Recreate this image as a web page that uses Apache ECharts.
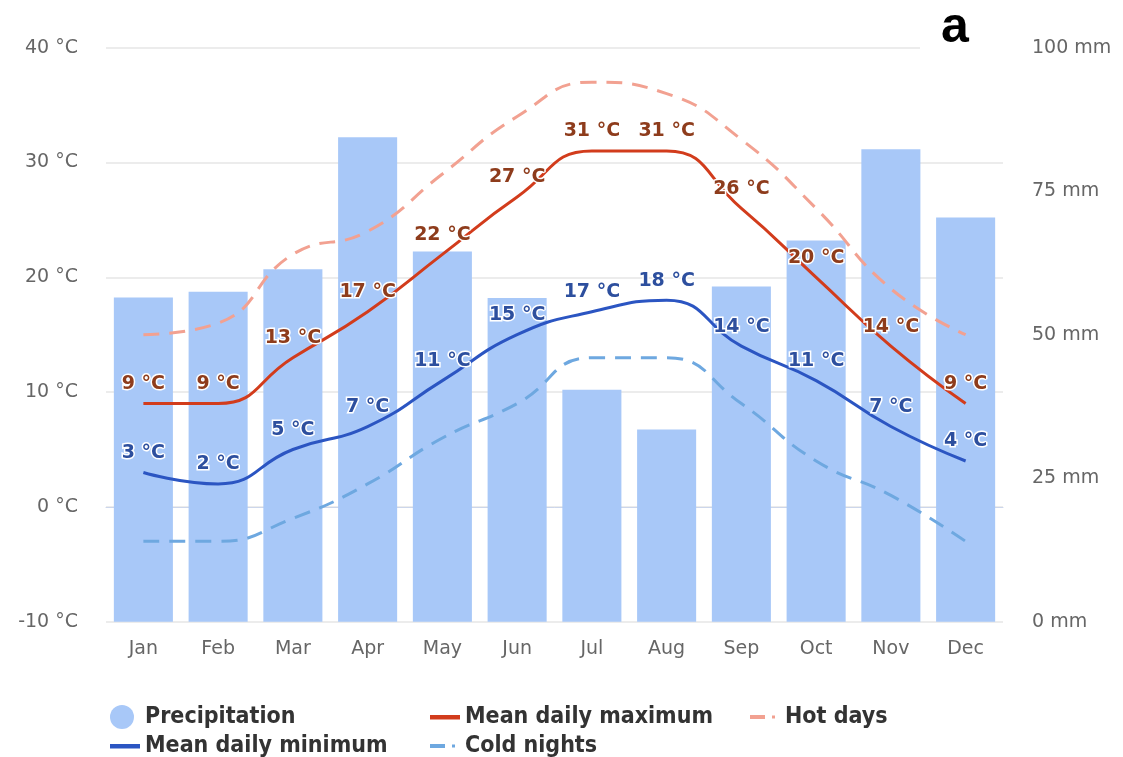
<!DOCTYPE html>
<html>
<head>
<meta charset="utf-8">
<script src="https://cdn.jsdelivr.net/npm/echarts@6/dist/echarts.min.js"></script>
<style>html,body{margin:0;padding:0;background:#fff;}#c{width:1123px;height:757px;}</style>
</head>
<body>
<div id="c"></div>
<script>
const months = ['Jan','Feb','Mar','Apr','May','Jun','Jul','Aug','Sep','Oct','Nov','Dec'];
const precipitation = [56.5, 57.5, 61.4, 84.4, 64.5, 56.4, 40.4, 33.5, 58.4, 66.4, 82.3, 70.4];
const meanMax = [9, 9, 13, 17, 22, 27, 31, 31, 26, 20, 14, 9];
const meanMin = [3, 2, 5, 7, 11, 15, 17, 18, 14, 11, 7, 4];
const hotDays = [15, 16, 22, 24, 29, 34, 37, 36, 32, 26, 19, 15];
const coldNights = [-3, -3, -1, 2, 6, 9, 13, 13, 9, 4, 1, -3];
const tempTicks = {min: -10, max: 40, interval: 10};
const precipTicks = {min: 0, max: 100, interval: 25};

const chart = echarts.init(document.getElementById('c'));
const FONT = 'DejaVu Sans';
const SOLID_ICON = 'path://M0,0 M30,24 M0,10 L30,10 L30,14.5 L0,14.5 Z';
const DASH_ICON = 'path://M0,0 M30,24 M0,10 L15,10 L15,14 L0,14 Z M22,10.5 L25,10.5 L25,13.5 L22,13.5 Z';
function lbl(color) {
  return {show: true, position: 'top', distance: 10, formatter: '{c} °C',
    color: color, fontFamily: FONT, fontWeight: 'bold', fontSize: 19,
    textBorderColor: '#fff', textBorderWidth: 3};
}
function leg(name, icon, left, top, pad) {
  return {left: left, top: top, itemWidth: 30, itemHeight: 24, data: [{name: name, icon: icon}],
    textStyle: {color: '#333', fontFamily: 'DejaVu Sans Condensed', fontWeight: 'bold', fontSize: 23, padding: [0,0,0,pad]}};
}
chart.setOption({
  animation: false,
  backgroundColor: '#fff',
  grid: {left: 106, right: 120, top: 47.7, bottom: 135.3, containLabel: false},
  xAxis: {
    type: 'category', data: months,
    axisLine: {lineStyle: {color: '#ccd6eb', width: 1}},
    axisTick: {show: false},
    axisLabel: {color: '#666', fontSize: 19, fontFamily: FONT, margin: 18}
  },
  yAxis: [{
    type: 'value', min: tempTicks.min, max: tempTicks.max, interval: tempTicks.interval,
    axisLabel: {formatter: '{value} °C', color: '#666', fontSize: 19, fontFamily: FONT, margin: 28},
    splitLine: {lineStyle: {color: '#e6e6e6', width: 1.5}},
    axisLine: {show: false}, axisTick: {show: false}
  }, {
    type: 'value', min: precipTicks.min, max: precipTicks.max, interval: precipTicks.interval,
    axisLabel: {formatter: '{value} mm', color: '#666', fontSize: 19, fontFamily: FONT, margin: 29},
    splitLine: {show: false}, axisLine: {show: false}, axisTick: {show: false}
  }],
  legend: [
    leg('Precipitation', 'circle', 105, 700, 3),
    leg('Mean daily maximum', SOLID_ICON, 425, 700, 0),
    leg('Hot days', DASH_ICON, 745, 700, 0),
    leg('Mean daily minimum', SOLID_ICON, 105, 729, 0),
    leg('Cold nights', DASH_ICON, 425, 729, 0)
  ],
  graphic: [
    {type: 'rect', left: 920, top: 42, shape: {width: 83, height: 12}, style: {fill: '#fff'}, z: 100},
    {type: 'text', left: 941, top: 3, z: 101,
      style: {text: 'a', font: 'bold 50px "Liberation Sans"', fill: '#000'}}
  ],
  series: [
    {name: 'Precipitation', type: 'bar', yAxisIndex: 1, data: precipitation,
      barCategoryGap: '21%', itemStyle: {color: '#a8c8f8'}, z: 1},
    {name: 'Hot days', type: 'line', data: hotDays, smooth: 0.5, symbol: 'none',
      lineStyle: {color: '#f2a191', width: 3, type: [16, 10]}, itemStyle: {color: '#f2a191'}, z: 2},
    {name: 'Cold nights', type: 'line', data: coldNights, smooth: 0.5, symbol: 'none',
      lineStyle: {color: '#6ea8e0', width: 3, type: [16, 10]}, itemStyle: {color: '#6ea8e0'}, z: 2},
    {name: 'Mean daily maximum', type: 'line', data: meanMax, smooth: 0.5,
      showSymbol: true, symbol: 'circle', symbolSize: 0.01,
      lineStyle: {color: '#d23c1c', width: 3}, itemStyle: {color: '#d23c1c'},
      label: lbl('#8e3c1c'), z: 3},
    {name: 'Mean daily minimum', type: 'line', data: meanMin, smooth: 0.5,
      showSymbol: true, symbol: 'circle', symbolSize: 0.01,
      lineStyle: {color: '#2b55c2', width: 3}, itemStyle: {color: '#2b55c2'},
      label: lbl('#2d4f9e'), z: 3}
  ]
});
</script>
</body>
</html>
